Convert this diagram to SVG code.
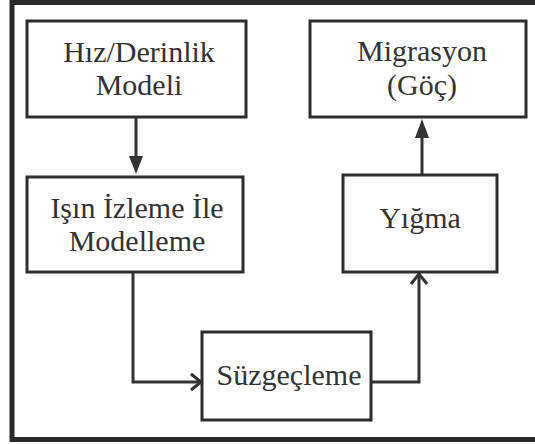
<svg xmlns="http://www.w3.org/2000/svg" width="535" height="444" viewBox="0 0 535 444">
<style>
.box{fill:#fff;stroke:#2e2e2e;stroke-width:3}
.lbl{font-family:"Liberation Serif","Times New Roman",serif;font-size:30px;fill:#333;text-anchor:middle}
.conn{fill:none;stroke:#333;stroke-width:3}
.head{fill:#333}
</style>
<rect x="12" y="2.5" width="540" height="437" fill="#fff" stroke="#2a2a2a" stroke-width="5"/>
<g id="connectors">
<line class="conn" x1="136" y1="117" x2="136" y2="158"/>
<path class="head" d="M129,156 L143,156 L136,174 Z"/>
<line class="conn" x1="422" y1="175" x2="422" y2="136"/>
<path class="head" d="M415,138 L429,138 L422,119 Z"/>
<path class="conn" d="M133,272 L133,382 L201,382"/>
<path class="conn" d="M191,374 L201,382 L191,390"/>
<path class="conn" d="M371,382 L419,382 L419,274"/>
<path class="conn" d="M411,284 L419,274 L427,284"/>
</g>
<g id="node-hiz">
<rect class="box" x="27" y="21" width="219" height="96"/>
<text class="lbl" x="139" y="62">Hız/Derinlik</text>
<text class="lbl" x="139" y="95">Modeli</text>
</g>
<g id="node-isin">
<rect class="box" x="27" y="177" width="216" height="95"/>
<text class="lbl" x="137" y="218">Işın İzleme İle</text>
<text class="lbl" x="137" y="251">Modelleme</text>
</g>
<g id="node-suzgec">
<rect class="box" x="202" y="332" width="169" height="88"/>
<text class="lbl" x="289" y="385">Süzgeçleme</text>
</g>
<g id="node-yigma">
<rect class="box" x="343" y="175" width="154" height="97"/>
<text class="lbl" x="420" y="228">Yığma</text>
</g>
<g id="node-migrasyon">
<rect class="box" x="310" y="21" width="216" height="96"/>
<text class="lbl" x="422" y="61">Migrasyon</text>
<text class="lbl" x="422" y="95">(Göç)</text>
</g>
</svg>
